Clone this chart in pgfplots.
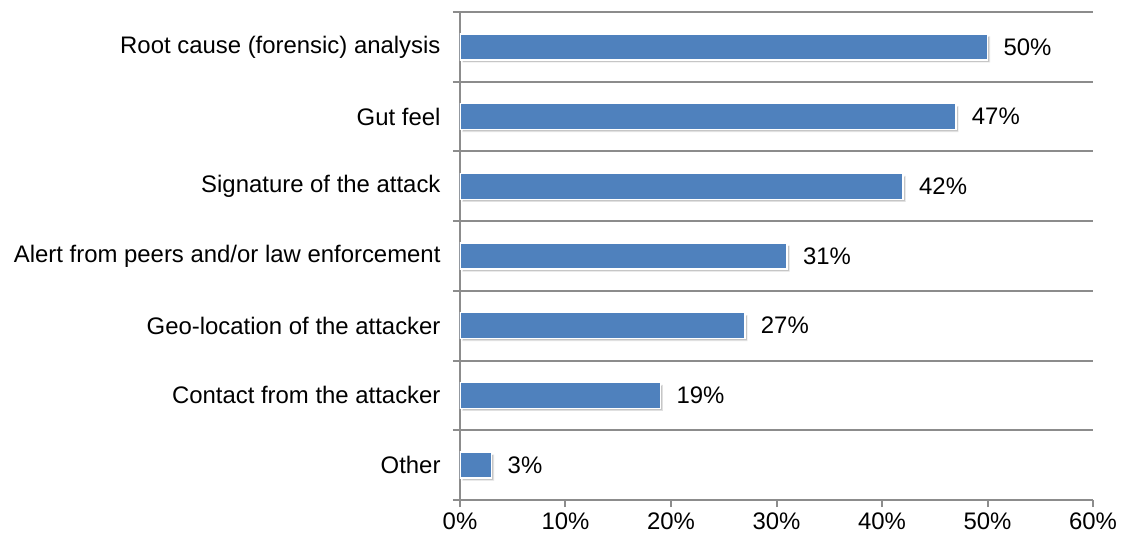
\documentclass[border=0pt]{standalone}
\usepackage{pgfplots}
\pgfplotsset{compat=1.18}
\usepackage{fontspec}
\setmainfont{Liberation Sans}
\usetikzlibrary{shadows}
\definecolor{barblue}{HTML}{4F81BD}
\definecolor{axisgray}{HTML}{8C8C8C}
\newcommand{\lbl}{\fontsize{24}{28}\selectfont}

\begin{document}
\begin{tikzpicture}
\begin{axis}[
  scale only axis, width=633bp, height=488bp,
  xbar, bar width=26bp,
  xmin=0, xmax=60, ymin=-0.5, ymax=6.5,
  axis x line*=bottom, axis y line*=left,
  axis line style={axisgray, line width=2.5bp, -},
  tick align=outside,
  major tick length=7bp,
  tick style={axisgray, line width=2bp},
  xtick={0,10,...,60},
  xticklabels={0\%,10\%,20\%,30\%,40\%,50\%,60\%},
  ytick={-0.5,0.5,...,6.5},
  yticklabels={},
  ymajorgrids,
  major grid style={axisgray, line width=2bp},
  extra y ticks={0,...,6},
  extra y tick labels={Other, Contact from the attacker, Geo-location of the attacker,
    Alert from peers and/or law enforcement, Signature of the attack,
    Gut feel, Root cause (forensic) analysis},
  extra y tick style={major tick length=0pt, grid=none, tick style={draw=none},
    yticklabel style={font=\lbl, xshift=-16bp}},
  xticklabel style={font=\lbl, yshift=-2bp},
  /pgf/number format/assume math mode=true,
  nodes near coords={\pgfmathprintnumber{\pgfplotspointmeta}\%},
  nodes near coords align=horizontal,
  every node near coord/.append style={font=\lbl, black, xshift=12bp},
]
\addplot[fill=barblue, draw=white, line width=1.5bp,
  drop shadow={opacity=0.45, shadow xshift=2.5bp, shadow yshift=-2.5bp}]
  coordinates {(3,0) (19,1) (27,2) (31,3) (42,4) (47,5) (50,6)};
\end{axis}
\pgfresetboundingbox
\path[use as bounding box] ([shift={(-460bp,-40bp)}]current axis.south west)
  rectangle ([shift={(28bp,12bp)}]current axis.north east);
\end{tikzpicture}
\end{document}
